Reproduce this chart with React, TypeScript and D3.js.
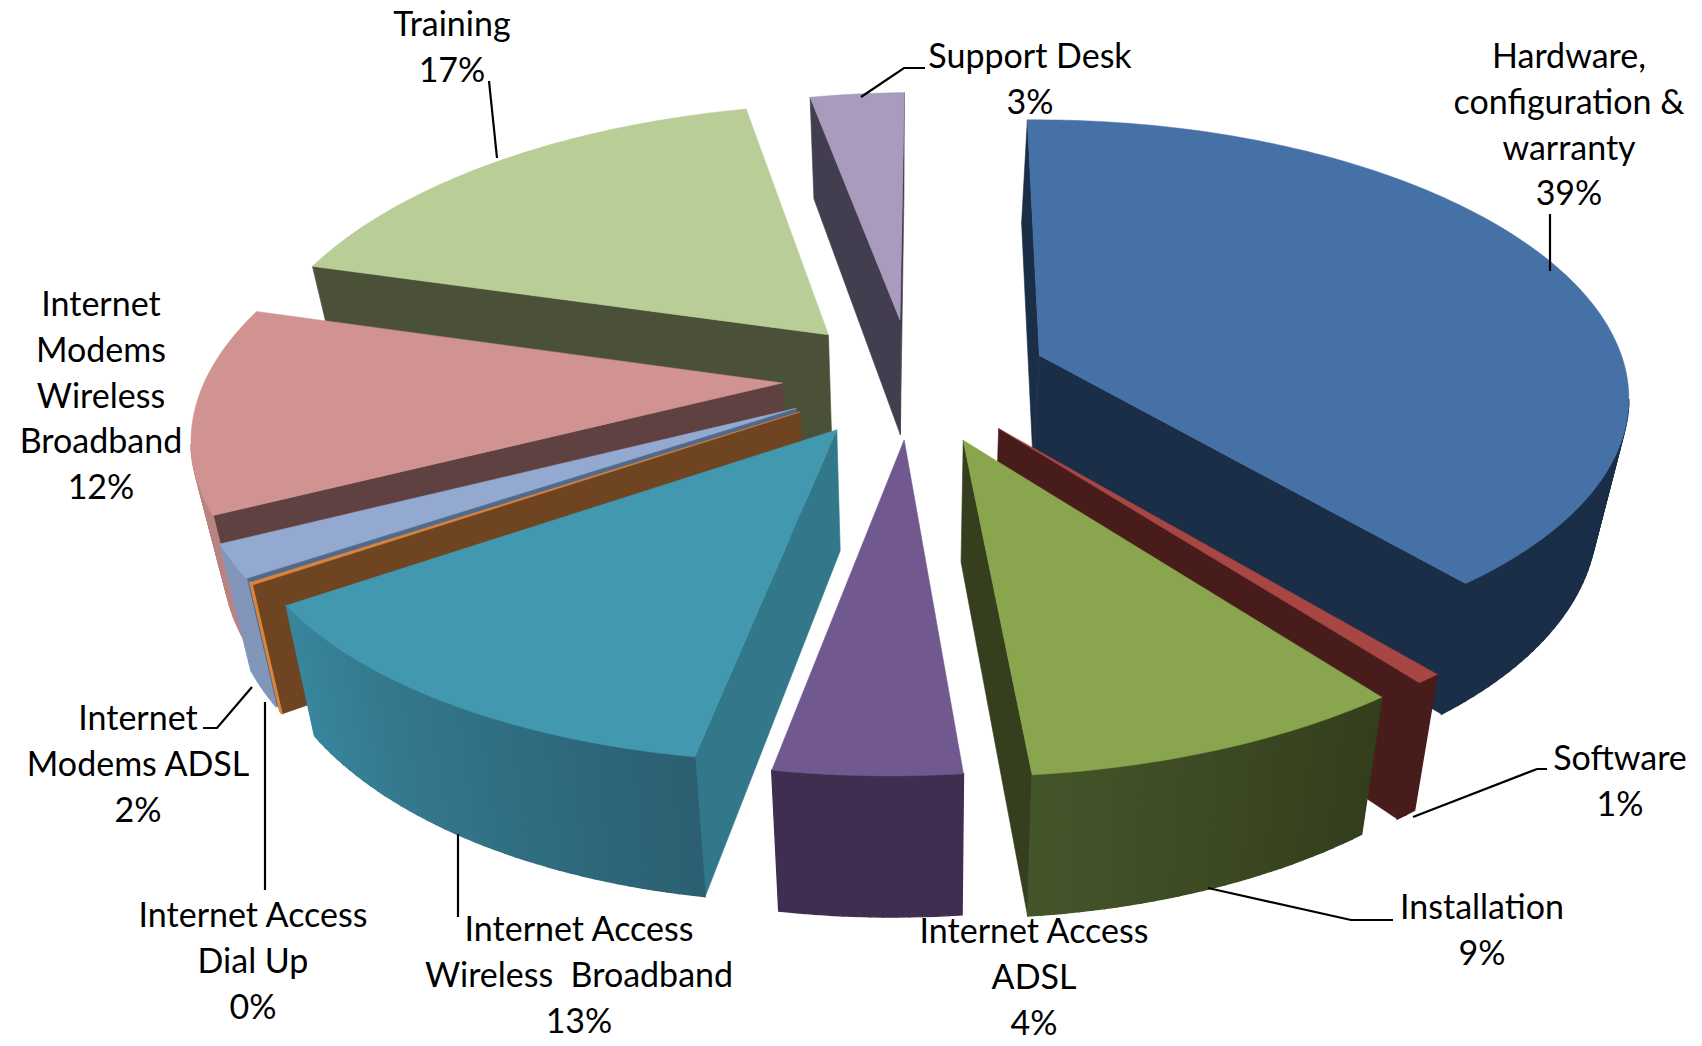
import React from "react";
import * as d3 from "d3";

const categories = ["Hardware, configuration & warranty","Software","Installation","Internet Access ADSL","Internet Access Wireless Broadband","Internet Access Dial Up","Internet Modems ADSL","Internet Modems Wireless Broadband","Training","Support Desk"];
const values = [39, 0.6, 9, 4.4, 13, 0.15, 2, 12, 17, 3];
const percentLabels = ["39%","1%","9%","4%","13%","0%","2%","12%","17%","3%"];
const labelLines = [["Hardware,","configuration &","warranty"],["Software"],["Installation"],["Internet Access","ADSL"],["Internet Access","Wireless  Broadband"],["Internet Access","Dial Up"],["Internet","Modems ADSL"],["Internet","Modems","Wireless","Broadband"],["Training"],["Support Desk"]];
const topColors = ["#4571a7","#a84644","#89a54e","#71588f","#4198af","#db843d","#93a9cf","#d19392","#b9cd96","#a99bbd"];
const radialColors = ["#1b2e47","#471c1a","#353f1e","#3f2e50","#33788a","#6e4520","#4f6a8c","#5f4142","#4b5138","#423e50"];
const rimFrom = ["#1b2e47","#471c1a","#45552a","#3f2e50","#38869c","#db843d","#8296ba","#ba8382","#4b5138","#423e50"];
const rimTo = ["#1b2e47","#471c1a","#333e1c","#3f2e50","#2c5f72","#db843d","#8296ba","#ba8382","#4b5138","#423e50"];
const explodeAmounts = [0.235, 0.235, 0.24, 0.22, 0.22, 0.22, 0.22, 0.22, 0.22, 0.22];
const labelAnchors: [number, number][] = [[1569,68],[1620,770],[1482,919],[1034,943],[579,941],[253,927],[138,730],[101,316],[452,36],[1030,68]];
const leaders: [number, number][][] = [
  [[1550,214],[1550,271]],
  [[1413,817],[1537,769],[1547,769]],
  [[1208,888],[1351,920],[1393,920]],
  [],
  [[458,834],[458,917]],
  [[265,702],[265,890]],
  [[252,687],[217,728],[203,728]],
  [],
  [[489,81],[497,158]],
  [[861,97],[904,68],[925,68]],
];

const CX = 911, CY = 378, RX = 585, HORIZON = 2025, K = 0.1345, WALL = 118, ROT = 0.03;
const SHEAR = 14, ROLL = 13.5, LEAN = 26, SAG = 4;

function project(u: number, d: number, z: number): [number, number] {
  const s = 1 / (1 - K * d);
  return [
    CX + (RX * u + SHEAR * d - LEAN * z * u) * s,
    CY + HORIZON * (s - 1) + (WALL * z - ROLL * u + SAG * u * u) * s,
  ];
}

export default function App() {
  const pie = d3.pie<number>().sort(null).startAngle(ROT).endAngle(ROT + 2 * Math.PI);
  const arcs = pie(values);
  const line = d3.line();
  const slices = arcs.map((a, i) => {
    const mid = (a.startAngle + a.endAngle) / 2;
    const ox = explodeAmounts[i] * Math.sin(mid), od = -explodeAmounts[i] * Math.cos(mid);
    const P = (ang: number, r: number, z: number) => project(ox + r * Math.sin(ang), od - r * Math.cos(ang), z);
    const n = Math.max(2, Math.ceil((a.endAngle - a.startAngle) / 0.02));
    const angs = d3.range(n + 1).map(j => a.startAngle + ((a.endAngle - a.startAngle) * j) / n);
    const rimTop = angs.map(t => P(t, 1, 0));
    const apex = P(0, 0, 0), apexB = P(0, 0, 1);
    const top = line([apex, ...rimTop])! + "Z";
    const m = P(mid, 1, 0);
    const side = (ang: number) => {
      const e = P(ang, 1, 0);
      const vx = e[0] - apex[0], vy = e[1] - apex[1];
      const visible = Math.abs(vx) < 1e-6 ? false : m[1] < apex[1] + (vy / vx) * (m[0] - apex[0]);
      return { visible, d: line([apex, e, P(ang, 1, 1), apexB])! + "Z" };
    };
    const walls = [side(a.startAngle), side(a.endAngle)].filter(w => w.visible);
    const shade = d3.scaleLinear<string>().domain([0, n - 1]).range([rimFrom[i], rimTo[i]]);
    const rim = d3.range(n).flatMap(j => {
      if (rimTop[j + 1][0] >= rimTop[j][0]) return [];
      const q = [rimTop[j], rimTop[j + 1], P(angs[j + 1], 1, 1), P(angs[j], 1, 1)] as [number, number][];
      return [{ d: line(q)! + "Z", c: shade(n - 1 - j) as string }];
    });
    return { i, order: od, top, walls, rim };
  });
  const sorted = [...slices].sort((p, q) => p.order - q.order);
  return (
    <svg width={1702} height={1046} style={{ position: "absolute", left: 0, top: 0, background: "#fff" }}>
      {sorted.map(s => (
        <g key={s.i} data-name={categories[s.i]}>
          {s.walls.map((w, j) => <path key={j} d={w.d} fill={radialColors[s.i]} stroke={radialColors[s.i]} strokeWidth={0.6} />)}
          {s.rim.map((r, j) => <path key={j} d={r.d} fill={r.c} stroke={r.c} strokeWidth={1.4} />)}
          <path d={s.top} fill={topColors[s.i]} stroke={topColors[s.i]} strokeWidth={0.5} />
        </g>
      ))}
      {leaders.map((pts, i) => pts.length ? <path key={i} d={line(pts)!} fill="none" stroke="#000" strokeWidth={2.2} /> : null)}
      {labelLines.map((lines, i) => (
        <text key={i} textAnchor="middle" fontFamily="Lato, Carlito, sans-serif" fontSize={34} fill="#000">
          {[...lines, percentLabels[i]].map((t, j) => (
            <tspan key={j} x={labelAnchors[i][0]} y={labelAnchors[i][1] + j * 45.8} style={{ whiteSpace: "pre" }}>{t}</tspan>
          ))}
        </text>
      ))}
    </svg>
  );
}
